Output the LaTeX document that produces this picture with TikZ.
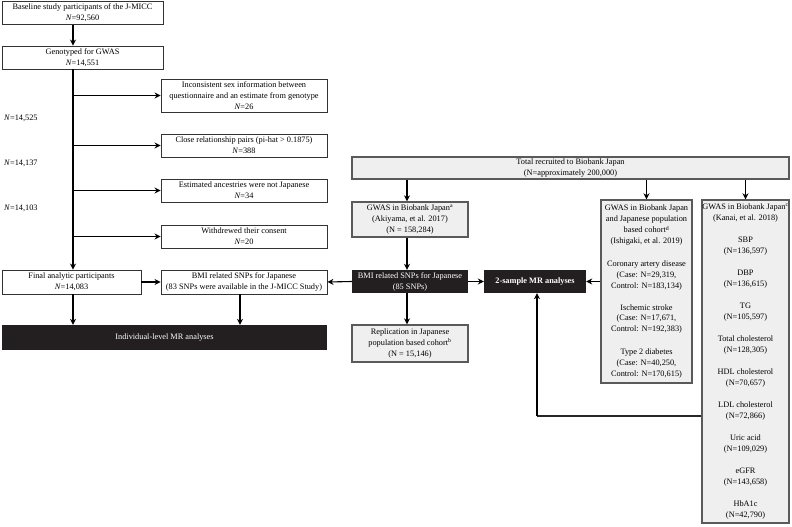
\documentclass[tikz,border=0pt]{standalone}
\usepackage{fontspec}
\setmainfont{Liberation Serif}
\usetikzlibrary{arrows.meta}
\definecolor{boxgray}{HTML}{EFEFEF}
\definecolor{edgegray}{HTML}{5A5A5A}
\definecolor{darkbox}{HTML}{231F20}
\begin{document}
\begin{tikzpicture}[x=1pt,y=-1pt,
      every node/.style={font=\fontsize{8.3}{11}\selectfont,align=center,inner sep=0pt},
      lbox/.style 2 args={draw=black!80,line width=0.9pt,fill=white,minimum width=#1pt,minimum height=#2pt},
      gbox/.style 2 args={draw=edgegray,line width=1.4pt,fill=boxgray,minimum width=#1pt,minimum height=#2pt},
      bbox/.style 2 args={fill=darkbox,text=white,minimum width=#1pt,minimum height=#2pt},
      arr/.style={-{Stealth[length=6pt,width=6pt]},line width=1.1pt},
      link/.style={line width=1.1pt,draw=black!85}]
    \useasboundingbox (0,0) rectangle (792,527);
    \coordinate (spine) at (73,0);
    \coordinate (snpx) at (240,0);
    \coordinate (colx) at (407,0);
    \coordinate (turn) at (537,416);
    \node[lbox={161}{23}] (base) at (82.5,13) {Baseline study participants of the J-MICC\\\textit{N}=92,560};
    \node[lbox={161}{23}] (geno) at (82.5,57.5) {Genotyped for GWAS\\\textit{N}=14,551};
    \node[lbox={166}{33}] (sex) at (244,95.5) {Inconsistent sex information between\\questionnaire and an estimate from genotype\\\textit{N}=26};
    \node[lbox={166}{23}] (kin) at (244,145.5) {Close relationship pairs (pi-hat {\textgreater} 0.1875)\\\textit{N}=388};
    \node[lbox={166}{23}] (anc) at (244,190.5) {Estimated ancestries were not Japanese\\\textit{N}=34};
    \node[lbox={166}{23}] (wd) at (244,236.5) {Withdrewed their consent\\\textit{N}=20};
    \node[anchor=west] (n1) at (4,118) {\textit{N}=14,525};
    \node[anchor=west] (n2) at (4,163) {\textit{N}=14,137};
    \node[anchor=west] (n3) at (4,208) {\textit{N}=14,103};
    \node[lbox={139}{24}] (final) at (71.5,282) {Final analytic participants\\\textit{N}=14,083};
    \node[lbox={166}{24}] (jmicc) at (244,282) {BMI related SNPs for Japanese\\(83 SNPs were available in the J-MICC Study)};
    \node[bbox={325}{25}] (indiv) at (164.5,337.5) {Individual-level MR analyses};
    \node[gbox={437}{22}] (total) at (570.5,168) {Total recruited to Biobank Japan\\(N=approximately 200,000)};
    \node[gbox={116}{35}] (bbj) at (410,219.5) {GWAS in Biobank Japan\textsuperscript{a}\\(Akiyama, et al. 2017)\\(N = 158,284)};
    \node[bbox={116}{23}] (bmi) at (410,281.5) {BMI related SNPs for Japanese\\(85 SNPs)};
    \node[gbox={116}{37}] (repl) at (410,343.5) {Replication in Japanese\\population based cohort\textsuperscript{b}\\(N = 15,146)};
    \node[bbox={102}{23}] (mr) at (535,281.5) {\textbf{2-sample MR analyses}};
    \node[gbox={91}{183}] (ish) at (646.5,291.5) {GWAS in Biobank Japan\\and Japanese population\\based cohort\textsuperscript{d}\\(Ishigaki, et al. 2019)\\[11pt]
        Coronary artery disease\\(Case: N=29,319,\\Control: N=183,134)\\[11pt]
        Ischemic stroke\\(Case: N=17,671,\\Control: N=192,383)\\[11pt]
        Type 2 diabetes\\(Case: N=40,250,\\Control: N=170,615)};
    \node[gbox={87}{323}] (kanai) at (745.5,361.5) {GWAS in Biobank Japan\textsuperscript{c}\\(Kanai, et al. 2018)\\[11pt]
        SBP\\(N=136,597)\\[11pt]
        DBP\\(N=136,615)\\[11pt]
        TG\\(N=105,597)\\[11pt]
        Total cholesterol\\(N=128,305)\\[11pt]
        HDL cholesterol\\(N=70,657)\\[11pt]
        LDL cholesterol\\(N=72,866)\\[11pt]
        Uric acid\\(N=109,029)\\[11pt]
        eGFR\\(N=143,658)\\[11pt]
        HbA1c\\(N=42,790)};
    \draw[arr] (base.south -| spine) -- (geno.north -| spine);
    \draw[arr] (geno.south -| spine) -- (final.north -| spine);
    \foreach \b in {sex,kin,anc,wd}
      \draw[arr] (spine |- \b.west) -- (\b.west);
    \draw[arr] (final.east) -- (jmicc.west);
    \draw[arr] (final.south -| spine) -- (indiv.north -| spine);
    \draw[arr] (jmicc.south -| snpx) -- (indiv.north -| snpx);
    \draw[arr] (total.south -| colx) -- (bbj.north -| colx);
    \draw[arr] (total.south -| ish.north) -- (ish.north);
    \draw[arr] (total.south -| kanai.north) -- (kanai.north);
    \draw[arr] (bbj.south -| colx) -- (bmi.north -| colx);
    \draw[arr] (bmi.south -| colx) -- (repl.north -| colx);
    \draw[arr] (bmi.west) -- (jmicc.east);
    \draw[arr] (bmi.east) -- (mr.west);
    \draw[arr] (mr.east -| ish.west) -- (mr.east);
    \draw[link] (kanai.west |- turn) -- (turn);
    \draw[arr] (turn) -- (mr.south -| turn);
  \end{tikzpicture}
\end{document}
